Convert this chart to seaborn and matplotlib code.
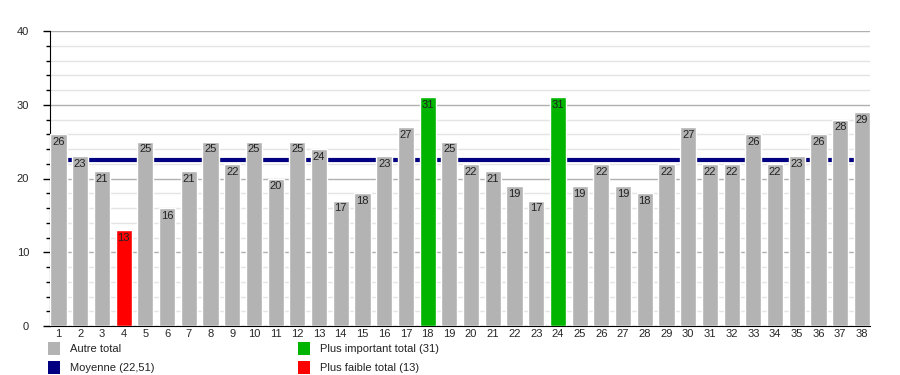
import numpy as np
import pandas as pd
import matplotlib
matplotlib.use("Agg")
import matplotlib.pyplot as plt
from matplotlib.patches import Rectangle
from matplotlib.ticker import MultipleLocator
import seaborn as sns

# Data
rounds = list(range(1, 39))
totals = [26, 23, 21, 13, 25, 16, 21, 25, 22, 25,
          20, 25, 24, 17, 18, 23, 27, 31, 25, 22,
          21, 19, 17, 31, 19, 22, 19, 18, 22, 27,
          22, 22, 26, 22, 23, 26, 28, 29]
mean_value = 22.51
legend_labels = ["Autre total", "Moyenne (22,51)",
                 "Plus important total (31)", "Plus faible total (13)"]

c_other = "#b3b3b3"
c_max = "#00b400"
c_min = "#ff0000"
c_mean = "#000080"

top = max(totals)
low = min(totals)
kind = ["max" if v == top else ("min" if v == low else "other") for v in totals]
df = pd.DataFrame({"round": [str(r) for r in rounds], "total": totals, "kind": kind})

sns.set_style("white")
plt.rcParams["font.family"] = ["Liberation Sans", "DejaVu Sans"]

W, H = 900, 375
fig = plt.figure(figsize=(W / 100, H / 100), dpi=100)
ax = fig.add_axes([50 / W, 1 - 326 / H, 820 / W, 295 / H])

bw = 0.74
sns.barplot(data=df, x="round", y="total", hue="kind",
            palette={"other": c_other, "max": c_max, "min": c_min},
            dodge=False, legend=False, width=bw, saturation=1,
            ax=ax, zorder=3)

ax.axhline(mean_value, color=c_mean, lw=3, zorder=2)

for i, v in enumerate(totals):
    ax.annotate(str(v), (i, v), xytext=(0, -2), textcoords="offset points",
                ha="center", va="top", fontsize=8, color="#222222", zorder=4)

ax.set_xlim(-bw / 2 - 0.02, len(rounds) - 1 + bw / 2)
ax.set_ylim(0, 40)
ax.yaxis.set_major_locator(MultipleLocator(10))
ax.yaxis.set_minor_locator(MultipleLocator(2))
ax.grid(which="major", axis="y", color="#b0b0b0", lw=1, zorder=0)
ax.grid(which="minor", axis="y", color="#e4e4e4", lw=1, zorder=0)
ax.set_axisbelow(True)

for s in ["top", "right"]:
    ax.spines[s].set_visible(False)
ax.spines["left"].set_color("black")
ax.spines["bottom"].set_color("black")

ax.tick_params(axis="y", which="major", length=5, width=1, color="black",
               labelsize=8, pad=10, left=True)
ax.tick_params(axis="y", which="minor", length=3, width=1, color="black", left=True)
ax.tick_params(axis="x", length=0, labelsize=8, pad=2)
ax.set_xlabel("")
ax.set_ylabel("")

# legend drawn by hand, two columns below the plot
leg_colors = [c_other, c_mean, c_max, c_min]
leg_pos = [(48, 342), (48, 361), (298, 342), (298, 361)]
for (px, py), col, lab in zip(leg_pos, leg_colors, legend_labels):
    fig.patches.append(Rectangle((px / W, 1 - (py + 13) / H), 12 / W, 13 / H,
                                 transform=fig.transFigure, facecolor=col,
                                 edgecolor="none"))
    fig.text((px + 22) / W, 1 - (py + 7) / H, lab, fontsize=8,
             color="#222222", va="center", ha="left")

fig.savefig("out.png", dpi=100)
